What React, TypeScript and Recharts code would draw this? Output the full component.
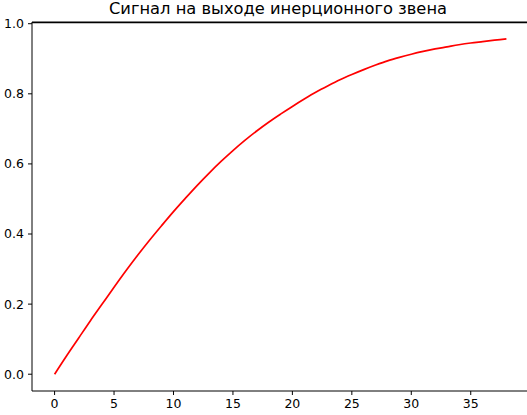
import { Line, LineChart, ReferenceLine, XAxis, YAxis } from "recharts";

const times = [
  0, 1, 2, 3, 4, 5, 6, 7, 8, 9, 10, 11, 12, 13, 14, 15, 16, 17, 18, 19, 20,
  21, 22, 23, 24, 25, 26, 27, 28, 29, 30, 31, 32, 33, 34, 35, 36, 37, 38,
];
const signal = [
  0.0, 0.052, 0.102, 0.152, 0.2, 0.248, 0.295, 0.34, 0.383, 0.424, 0.464,
  0.502, 0.539, 0.574, 0.607, 0.638, 0.667, 0.694, 0.719, 0.742, 0.764, 0.785,
  0.805, 0.823, 0.84, 0.855, 0.869, 0.882, 0.894, 0.904, 0.913, 0.921, 0.928,
  0.934, 0.94, 0.945, 0.949, 0.953, 0.957,
];
const xTicks = [0, 5, 10, 15, 20, 25, 30, 35];
const yTicks = [0, 0.2, 0.4, 0.6, 0.8, 1.0];
const title = "Сигнал на выходе инерционного звена";

const data = times.map((t, i) => ({ t, v: signal[i] }));

const font = "'DejaVu Sans', sans-serif";
const tickStyle = { fill: "#000", fontSize: 12.5, fontFamily: font };
const yMin = -0.0479;
const yMax = 1.0049;

export default function App() {
  return (
    <div
      style={{
        position: "fixed",
        left: 0,
        top: 0,
        width: 527,
        height: 415,
        overflow: "hidden",
        background: "#fff",
      }}
    >
      <LineChart
        width={530}
        height={415}
        data={data}
        margin={{ top: 22, right: 1, bottom: 0, left: 0 }}
      >
        <XAxis
          dataKey="t"
          type="number"
          domain={[-1.9, 39.9]}
          ticks={xTicks}
          allowDataOverflow
          height={24}
          tickSize={4}
          tickMargin={4}
          tick={tickStyle}
          stroke="#000"
          tickLine={{ stroke: "#000" }}
        />
        <YAxis
          type="number"
          domain={[yMin, yMax]}
          ticks={yTicks}
          allowDataOverflow
          width={32}
          tickSize={4}
          tickMargin={4}
          tick={tickStyle}
          tickFormatter={(v: number) => v.toFixed(1)}
          stroke="#000"
          tickLine={{ stroke: "#000" }}
        />
        {/* top spine */}
        <ReferenceLine
          y={yMax - 0.0015}
          stroke="#000"
          strokeWidth={1.3}
          ifOverflow="extendDomain"
        />
        <Line
          dataKey="v"
          type="monotone"
          stroke="#ff0000"
          strokeWidth={1.7}
          dot={false}
          isAnimationActive={false}
        />
      </LineChart>
      <svg
        width={527}
        height={30}
        style={{ position: "absolute", left: 0, top: 0, zIndex: 3 }}
      >
        <text
          x={278}
          y={14}
          textAnchor="middle"
          fontFamily={font}
          fontSize={16.3}
          fill="#000"
        >
          {title}
        </text>
        <rect x={32} y={21.5} width={495} height={1.5} fill="#000" />
      </svg>
    </div>
  );
}
